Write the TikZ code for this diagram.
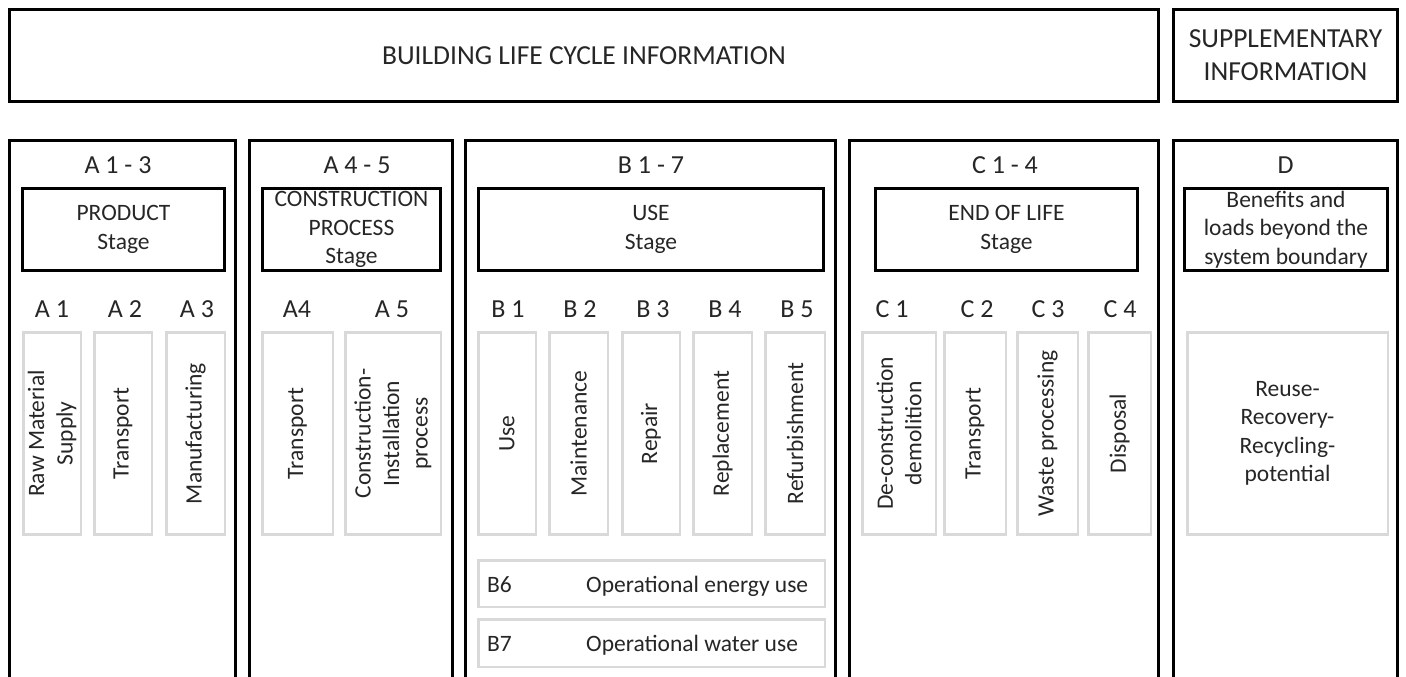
\documentclass[tikz,border=0pt]{standalone}
\usepackage{fontspec}
\setmainfont{Carlito}
\begin{document}
\begin{tikzpicture}[x=1pt, y=-1pt,
  every node/.style={text=black!85, font=\fontsize{23.5}{28.5}\selectfont},
  frame/.style={draw=black, line width=3pt, inner sep=0pt, align=center},
  title/.style={frame, minimum height=92pt, font=\fontsize{27.5}{33}\selectfont},
  cell/.style={draw=black!15, line width=2.5pt, inner sep=0pt, align=center},
  vcell/.style={cell, rotate=90, minimum width=202pt},
  code/.style={anchor=base, inner sep=0pt, font=\fontsize{26}{30}\selectfont}]
\useasboundingbox (0,0) rectangle (1406,677);
% header boxes
\node[title, minimum width=1149pt] (life) at (584,55.5) {BUILDING LIFE CYCLE INFORMATION};
\node[title, minimum width=224pt] (supp) at (1285.5,55.5) {SUPPLEMENTARY\\INFORMATION};
% columns, open at the bottom
\draw[line width=3pt] (9.5,700) -- (9.5,140.5) -- (235.5,140.5) -- (235.5,700);
\draw[line width=3pt] (249.5,700) -- (249.5,140.5) -- (452.5,140.5) -- (452.5,700);
\draw[line width=3pt] (465.5,700) -- (465.5,140.5) -- (835.5,140.5) -- (835.5,700);
\draw[line width=3pt] (849.5,700) -- (849.5,140.5) -- (1158.5,140.5) -- (1158.5,700);
\draw[line width=3pt] (1173.5,700) -- (1173.5,140.5) -- (1397.5,140.5) -- (1397.5,700);
% module groups
\node[code] (hA13) at (118,173) {A 1 - 3};
\node[code] (hA45) at (357,173) {A 4 - 5};
\node[code] (hB17) at (651,173) {B 1 - 7};
\node[code] (hC14) at (1005,173) {C 1 - 4};
\node[code] (hD) at (1285.5,173) {D};
% stages
\node[frame, minimum width=202pt, minimum height=82pt] (stgA13) at (123.5,229.5) {PRODUCT\\Stage};
\node[frame, minimum width=178pt, minimum height=82pt] (stgA45) at (351.5,229.5) {CONSTRUCTION\\PROCESS\\Stage};
\node[frame, minimum width=345pt, minimum height=82pt] (stgB17) at (651,229.5) {USE\\Stage};
\node[frame, minimum width=262pt, minimum height=82pt] (stgC14) at (1006.5,229.5) {END OF LIFE\\Stage};
\node[frame, minimum width=203pt, minimum height=82pt] (stgD) at (1286,229.5) {Benefits and\\loads beyond the\\system boundary};
% module codes
\node[code] (lA1) at (52,317) {A 1};
\node[code] (lA2) at (125,317) {A 2};
\node[code] (lA3) at (197,317) {A 3};
\node[code] (lA4) at (297,317) {A4};
\node[code] (lA5) at (392,317) {A 5};
\node[code] (lB1) at (508,317) {B 1};
\node[code] (lB2) at (580,317) {B 2};
\node[code] (lB3) at (653,317) {B 3};
\node[code] (lB4) at (725,317) {B 4};
\node[code] (lB5) at (797,317) {B 5};
\node[code] (lC1) at (892,317) {C 1};
\node[code] (lC2) at (977,317) {C 2};
\node[code] (lC3) at (1048,317) {C 3};
\node[code] (lC4) at (1120,317) {C 4};
% modules
\node[vcell, minimum height=57.5pt] (mA1) at (52,433.5) {Raw Material\\Supply};
\node[vcell, minimum height=57.5pt] (mA2) at (123,433.5) {Transport};
\node[vcell, minimum height=58.5pt] (mA3) at (195.5,433.5) {Manufacturing};
\node[vcell, minimum height=70.5pt] (mA4) at (297.5,433.5) {Transport};
\node[vcell, minimum height=95.5pt] (mA5) at (393,433.5) {Construction-\\Installation\\process};
\node[vcell, minimum height=57.5pt] (mB1) at (507,433.5) {Use};
\node[vcell, minimum height=58.5pt] (mB2) at (578.5,433.5) {Maintenance};
\node[vcell, minimum height=57.5pt] (mB3) at (651,433.5) {Repair};
\node[vcell, minimum height=58.5pt] (mB4) at (722.5,433.5) {Replacement};
\node[vcell, minimum height=59.5pt] (mB5) at (795,433.5) {Refurbishment};
\node[vcell, minimum height=73.5pt] (mC1) at (899,433.5) {De-construction\\demolition};
\node[vcell, minimum height=61.5pt] (mC2) at (975,433.5) {Transport};
\node[vcell, minimum height=60.5pt] (mC3) at (1047.5,433.5) {Waste processing};
\node[vcell, minimum height=62.5pt] (mC4) at (1119.5,433.5) {Disposal};
\node[cell, minimum width=200.5pt, minimum height=202pt] (mD) at (1287.5,433.5) {Reuse-\\Recovery-\\Recycling-\\potential};
% operational modules
\node[cell, minimum width=346.5pt, minimum height=46.5pt] (mB6) at (651.5,583.5) {};
\node[cell, minimum width=346.5pt, minimum height=47.5pt] (mB7) at (651.5,643) {};
\node[anchor=base west, inner sep=0pt] (cB6) at (487,592) {B6};
\node[anchor=base west, inner sep=0pt] (tB6) at (586,592) {Operational energy use};
\node[anchor=base west, inner sep=0pt] (cB7) at (487,651) {B7};
\node[anchor=base west, inner sep=0pt] (tB7) at (586,651) {Operational water use};
\end{tikzpicture}
\end{document}
